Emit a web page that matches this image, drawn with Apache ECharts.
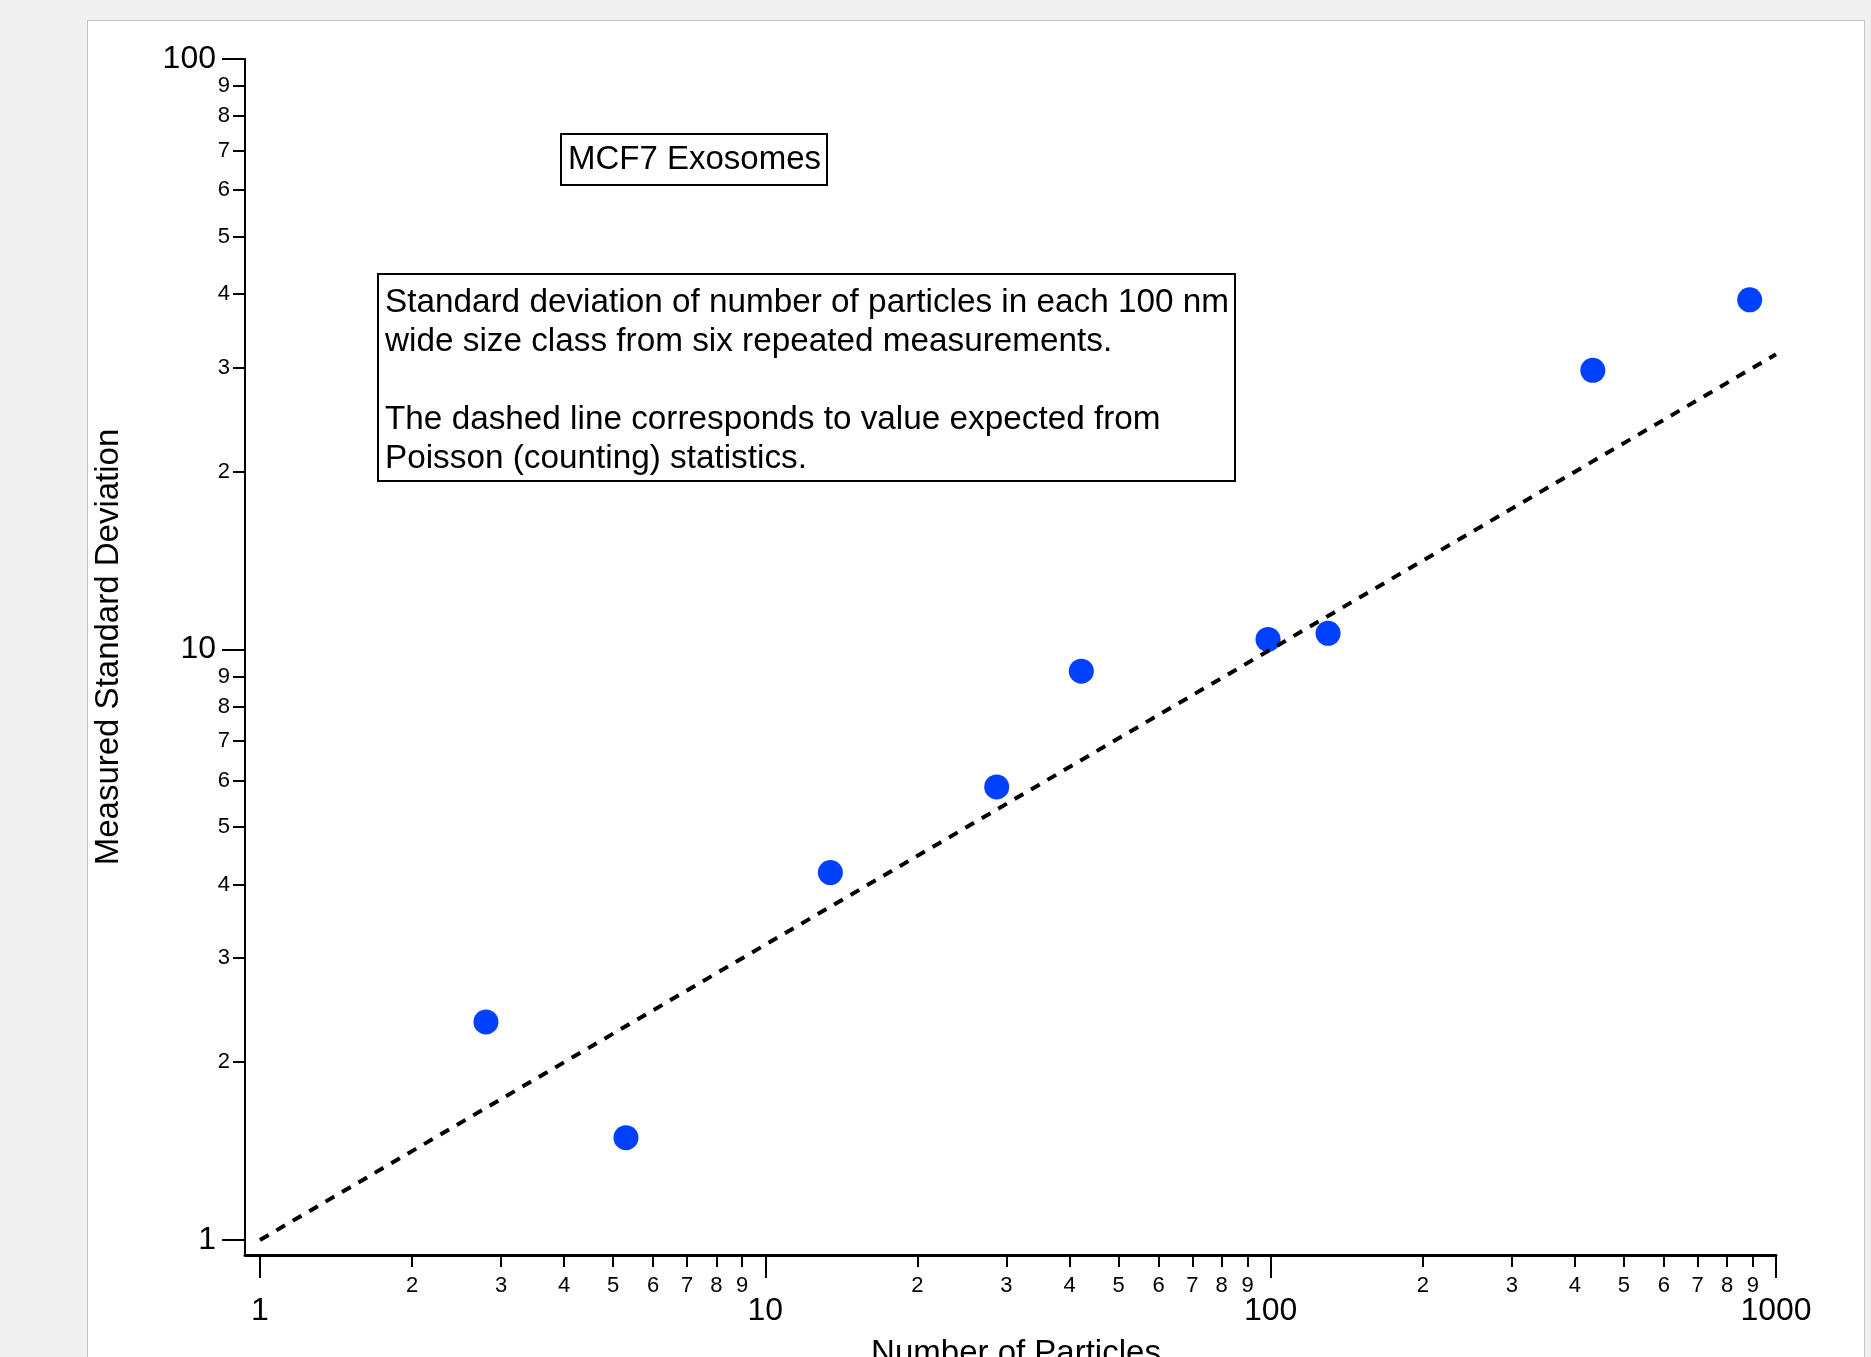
<!DOCTYPE html>
<html>
<head>
<meta charset="utf-8">
<script src="https://cdn.jsdelivr.net/npm/echarts@6/dist/echarts.min.js"></script>
<style>
  html, body { margin: 0; padding: 0; background: #f0f0f0; width: 1871px; height: 1357px; overflow: hidden; }
  #panel { position: absolute; left: 87px; top: 20px; width: 1778px; height: 1400px; background: #fff; border: 1px solid #c4c4c4; box-sizing: border-box; }
  #chart { position: absolute; left: 0; top: 0; width: 1871px; height: 1357px; }
</style>
</head>
<body>
<div id="panel"></div>
<div id="chart"></div>
<script>
// ---- data ----
const particleCounts = [2.8, 5.3, 13.45, 28.7, 42.2, 98.8, 129.9, 434, 887];
const measuredStdDev = [2.34, 1.49, 4.19, 5.85, 9.19, 10.40, 10.65, 29.7, 39.1];
// Poisson expectation endpoints (sqrt of N) at N = 1 and N = 1000
const poissonX = [1, 1000];
const poissonY = [1, 31.62];

// ---- axis ticks / labels ----
const xMajorTicks = [1, 10, 100, 1000];
const xMajorLabels = ['1', '10', '100', '1000'];
const xMinorTicks = [2, 3, 4, 5, 6, 7, 8, 9, 20, 30, 40, 50, 60, 70, 80, 90, 200, 300, 400, 500, 600, 700, 800, 900];
const xMinorLabels = ['2', '3', '4', '5', '6', '7', '8', '9', '2', '3', '4', '5', '6', '7', '8', '9', '2', '3', '4', '5', '6', '7', '8', '9'];
const yMajorTicks = [1, 10, 100];
const yMajorLabels = ['1', '10', '100'];
const yMinorTicks = [2, 3, 4, 5, 6, 7, 8, 9, 20, 30, 40, 50, 60, 70, 80, 90];
const yMinorLabels = ['2', '3', '4', '5', '6', '7', '8', '9', '2', '3', '4', '5', '6', '7', '8', '9'];
const xMin = 0.934, xMax = 1000;
const yMin = 0.943, yMax = 100;

const xTitle = 'Number of Particles';
const yTitle = 'Measured Standard Deviation';
const boxTitle = 'MCF7 Exosomes';
const boxNote = 'Standard deviation of number of particles in each 100 nm\nwide size class from six repeated measurements.\n\nThe dashed line corresponds to value expected from\nPoisson (counting) statistics.';

const FONT = "'Liberation Sans', Arial, sans-serif";

function lookup(ticks, labels) {
  return function (v) {
    for (let i = 0; i < ticks.length; i++) {
      if (Math.abs(Math.log10(v) - Math.log10(ticks[i])) < 1e-6) return labels[i];
    }
    return '';
  };
}

function axisBase(min, max) {
  return { type: 'log', logBase: 10, min: min, max: max, gridIndex: 0, splitLine: { show: false }, minorTick: { show: false }, minorSplitLine: { show: false } };
}

const chart = echarts.init(document.getElementById('chart'), null, { renderer: 'canvas' });

const option = {
  animation: false,
  backgroundColor: 'transparent',
  grid: { left: 245, right: 95, top: 59, bottom: 102, outerBoundsMode: 'none', containLabel: false },
  xAxis: [
    Object.assign(axisBase(xMin, xMax), {
      position: 'bottom',
      axisLine: { show: true, onZero: false, lineStyle: { color: '#000', width: 3 } },
      axisTick: { show: true, customValues: xMajorTicks, length: 23, lineStyle: { color: '#000', width: 2 } },
      axisLabel: { show: true, customValues: xMajorTicks, formatter: lookup(xMajorTicks, xMajorLabels), fontSize: 32, fontFamily: FONT, color: '#000', margin: 40, hideOverlap: false }
    }),
    Object.assign(axisBase(xMin, xMax), {
      position: 'bottom',
      axisLine: { show: false, onZero: false },
      axisTick: { show: true, customValues: xMinorTicks, length: 12, lineStyle: { color: '#000', width: 2 } },
      axisLabel: { show: true, customValues: xMinorTicks, formatter: lookup(xMinorTicks, xMinorLabels), fontSize: 22, fontFamily: FONT, color: '#000', margin: 20, hideOverlap: false }
    })
  ],
  yAxis: [
    Object.assign(axisBase(yMin, yMax), {
      position: 'left',
      axisLine: { show: true, onZero: false, lineStyle: { color: '#000', width: 2 } },
      axisTick: { show: true, customValues: yMajorTicks, length: 23, lineStyle: { color: '#000', width: 2 } },
      axisLabel: { show: true, customValues: yMajorTicks, formatter: lookup(yMajorTicks, yMajorLabels), fontSize: 32, fontFamily: FONT, color: '#000', margin: 29, hideOverlap: false }
    }),
    Object.assign(axisBase(yMin, yMax), {
      position: 'left',
      axisLine: { show: false, onZero: false },
      axisTick: { show: true, customValues: yMinorTicks, length: 12, lineStyle: { color: '#000', width: 2 } },
      axisLabel: { show: true, customValues: yMinorTicks, formatter: lookup(yMinorTicks, yMinorLabels), fontSize: 22, fontFamily: FONT, color: '#000', margin: 15, hideOverlap: false }
    })
  ],
  series: [
    {
      type: 'scatter',
      xAxisIndex: 0, yAxisIndex: 0,
      data: particleCounts.map((x, i) => [x, measuredStdDev[i]]),
      symbol: 'circle', symbolSize: 25,
      itemStyle: { color: '#0040ff', opacity: 1 },
      z: 2
    },
    {
      type: 'line',
      xAxisIndex: 0, yAxisIndex: 0,
      data: poissonX.map((x, i) => [x, poissonY[i]]),
      showSymbol: false, symbol: 'none',
      lineStyle: { color: '#000', width: 4, type: [10, 9], cap: 'butt' },
      z: 3
    }
  ],
  graphic: [
    { type: 'rect', shape: { x: 561, y: 134, width: 266, height: 51 }, style: { fill: '#fff', stroke: '#000', lineWidth: 2 }, z: 10 },
    { type: 'text', x: 568, y: 160, style: { text: boxTitle, font: '33px ' + FONT, fill: '#000', textAlign: 'left', textVerticalAlign: 'middle' }, z: 11 },
    { type: 'rect', shape: { x: 378, y: 274, width: 857, height: 207 }, style: { fill: '#fff', stroke: '#000', lineWidth: 2 }, z: 10 },
    { type: 'text', x: 385, y: 283, style: { text: boxNote, font: '33.3px ' + FONT, lineHeight: 39, fill: '#000', textAlign: 'left', textVerticalAlign: 'top' }, z: 11 },
    { type: 'text', x: 109, y: 647, rotation: Math.PI / 2, style: { text: yTitle, font: '33px ' + FONT, fill: '#000', textAlign: 'center', textVerticalAlign: 'middle' }, z: 11 },
    { type: 'text', x: 1016, y: 1354, style: { text: xTitle, font: '33px ' + FONT, fill: '#000', textAlign: 'center', textVerticalAlign: 'middle' }, z: 11 }
  ]
};
chart.setOption(option);
</script>
</body>
</html>
